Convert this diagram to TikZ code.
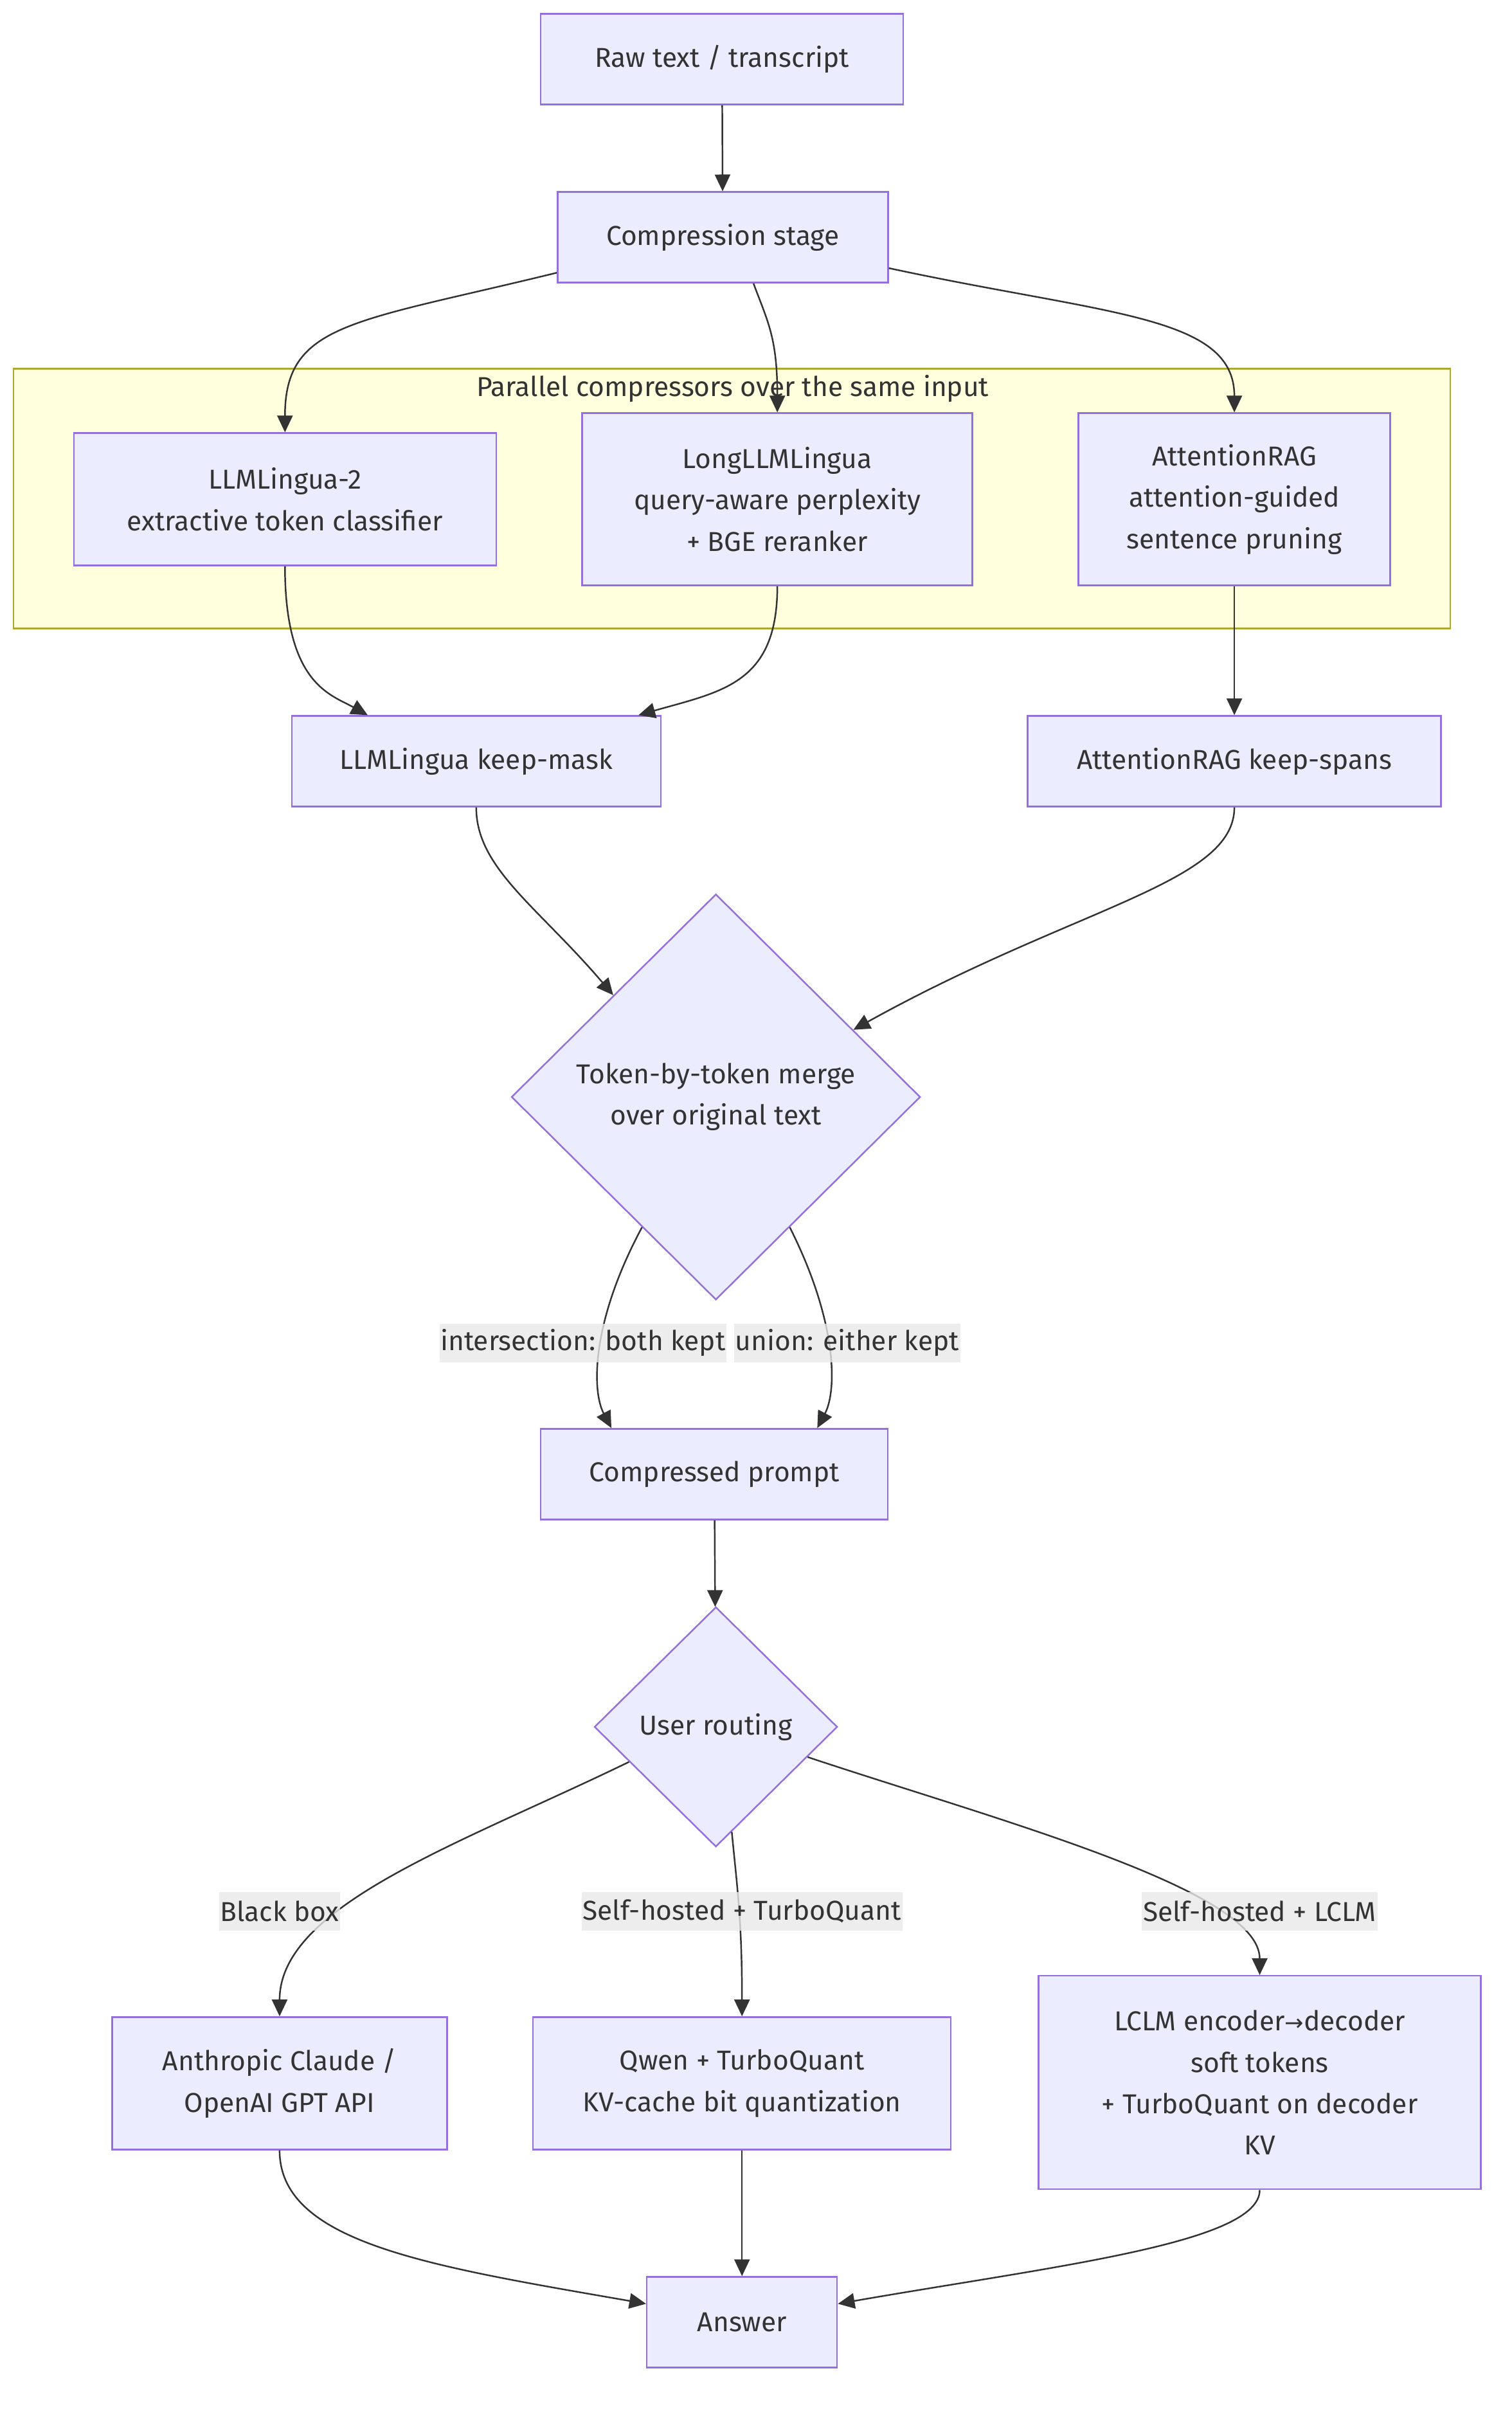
\documentclass[tikz,border=0pt]{standalone}
\usepackage{fontspec}
\setmainfont{Fira Sans}
\usetikzlibrary{
  calc,
  positioning,
  arrows.meta,
  shapes.geometric}
\definecolor{boxfill}{HTML}{ECECFF}
\definecolor{boxline}{HTML}{9370DB}
\definecolor{grpfill}{HTML}{FFFFDE}
\definecolor{grpline}{HTML}{AAAA33}
\definecolor{txt}{HTML}{333333}
\definecolor{lblfill}{HTML}{E8E8E8}

\begin{document}
\begin{tikzpicture}[
  x=0.023902cm,
  y=-0.023902cm,
  >={Triangle[length=2.6mm,width=2.4mm]},
  line width=0.7pt,
  every node/.style={text=txt,font=\fontsize{12.1}{18.3}\selectfont,align=center},
  box/.style={draw=boxline,fill=boxfill,inner sep=0pt,minimum height=1.41cm},
  decision/.style={diamond,draw=boxline,fill=boxfill,inner sep=0pt,aspect=1},
  elabel/.style={fill=lblfill,fill opacity=0.8,text opacity=1,inner xsep=0.5pt,inner ysep=0pt,minimum height=0.6cm},
  edge/.style={draw=txt,->}
]%
  \useasboundingbox (0,0) rectangle (984,1568);

  % parallel compressors group
  \node (grp) [draw=grpline,fill=grpfill,minimum width=22.35cm,minimum height=4.04cm] at (476.5,324.5) {};
  \node (grpT) at (477,253) {Parallel compressors over the same input};

  \node (raw) [box,minimum width=5.64cm] at (470,38.5) {Raw text / transcript};
  \node (cs)  [box,minimum width=5.14cm] at (470.5,154.5) {Compression stage};

  \node (ll2) [box,minimum width=6.57cm,minimum height=2.06cm] at (185.5,325) {LLMLingua-2\\extractive token classifier};
  \node (lo)  [box,minimum width=6.07cm,minimum height=2.68cm] at (506,325) {LongLLMLingua\\query-aware perplexity\\+ BGE reranker};
  \node (ar)  [box,minimum width=4.85cm,minimum height=2.68cm] at (803.5,325) {AttentionRAG\\attention-guided\\sentence pruning};

  \node (mk) [box,minimum width=5.74cm] at (310,495.5) {LLMLingua keep-mask};
  \node (sp) [box,minimum width=6.43cm] at (803.5,495.5) {AttentionRAG keep-spans};

  \node (mg) [decision,minimum width=6.36cm,minimum height=6.31cm] at (466,714) {Token-by-token merge\\over original text};

  \node (cp) [box,minimum width=5.40cm] at (465,959.5) {Compressed prompt};

  \node (rt) [decision,minimum width=3.78cm,minimum height=3.73cm] at (466,1124) {User routing};

  \node (an) [box,minimum width=5.21cm,minimum height=2.06cm] at (182,1356) {Anthropic Claude /\\OpenAI GPT API};
  \node (qw) [box,minimum width=6.50cm,minimum height=2.06cm] at (483,1356) {Qwen + TurboQuant\\KV-cache bit quantization};
  \node (lc) [box,minimum width=6.88cm,minimum height=3.32cm] at (820,1355.5) {LCLM encoder{\fontspec{DejaVu Sans}\fontsize{10}{12}\selectfont→}decoder\\soft tokens\\+ TurboQuant on decoder\\KV};

  \node (ans) [box,minimum width=2.96cm] at (483,1511.5) {Answer};

  % connectors
  \draw[edge] (raw) -- (cs);
  \draw[edge] ($(cs.south west)+(0,-7)$) .. controls (230,210) and (185.5,210) .. (ll2.north);
  \draw[edge] ($(cs.south)+(20,0)$) .. controls (500,210) and (506,220) .. (lo.north);
  \draw[edge] ($(cs.south east)+(0,-10)$) .. controls (720,205) and (803.5,205) .. (ar.north);

  \draw[edge] (ll2.south) .. controls (185.5,445) and (215,452) .. ($(mk.north west)+(50,0)$);
  \draw[edge] (lo.south) .. controls (506,445) and (470,450) .. ($(mk.north east)+(-15,0)$);
  \draw[edge] (ar) -- (sp);

  \draw[edge] (mk.south) .. controls (310,565) and (350,590) .. ($(mg.west)!0.5!(mg.north)$);
  \draw[edge] (sp.south) .. controls (803.5,575) and (700,590) .. ($(mg.north)!0.67!(mg.east)$);

  \draw[edge] ($(mg.west)!0.64!(mg.south)$) .. controls (385,860) and (385,905) .. ($(cp.north)+(-67,0)$);
  \draw[edge] ($(mg.east)!0.64!(mg.south)$) .. controls (545,860) and (545,905) .. ($(cp.north)+(67,0)$);
  \node (lbInt) [elabel] at (379.5,874) {intersection: both kept};
  \node (lbUni) [elabel] at (551.5,874) {union: either kept};

  \draw[edge] (cp) -- (rt);

  \draw[edge] ($(rt.west)!0.29!(rt.south)$) .. controls (300,1200) and (182,1240) .. (an.north);
  \draw[edge] ($(rt.east)!0.87!(rt.south)$) .. controls (480,1230) and (483,1250) .. (qw.north);
  \draw[edge] ($(rt.east)!0.25!(rt.south)$) .. controls (650,1185) and (820,1230) .. (lc.north);
  \node (lbBlk) [elabel] at (182,1244) {Black box};
  \node (lbSTQ) [elabel] at (483,1244) {Self-hosted + TurboQuant};
  \node (lbSLC) [elabel] at (820,1244) {Self-hosted + LCLM};

  \draw[edge] (an.south) .. controls (182,1460) and (280,1475) .. ($(ans.west)+(0,-12)$);
  \draw[edge] (qw) -- (ans);
  \draw[edge] (lc.south) .. controls (820,1460) and (686,1475) .. ($(ans.east)+(0,-12)$);

\end{tikzpicture}
\end{document}
